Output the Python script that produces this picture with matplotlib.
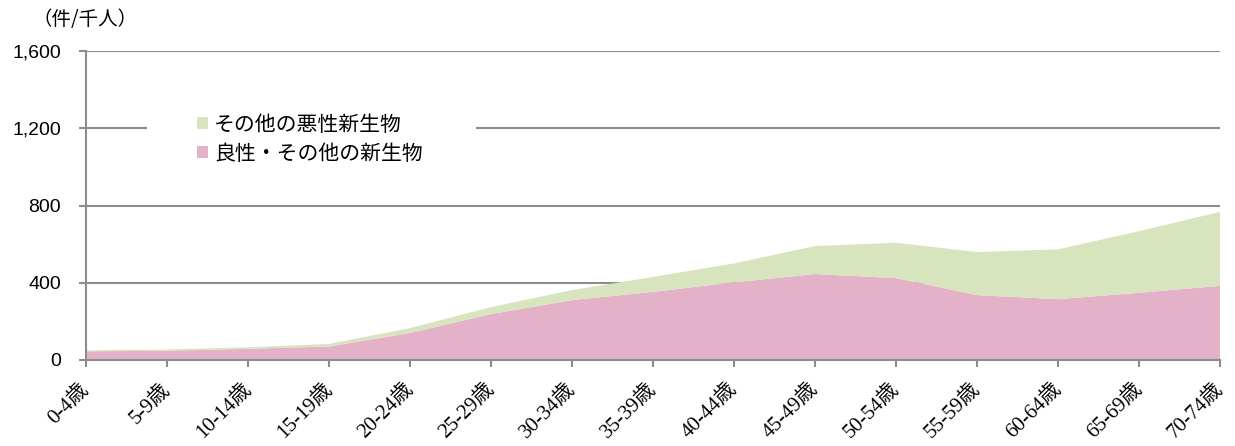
import matplotlib.pyplot as plt
from matplotlib.patches import Rectangle
import numpy as np

ages = ["0-4歳", "5-9歳", "10-14歳", "15-19歳", "20-24歳", "25-29歳", "30-34歳",
        "35-39歳", "40-44歳", "45-49歳", "50-54歳", "55-59歳", "60-64歳",
        "65-69歳", "70-74歳"]
# 良性・その他の新生物 (bottom)
benign = [45, 48, 58, 70, 140, 238, 310, 353, 402, 445, 424, 336, 315, 348, 384]
# その他の悪性新生物 (top)
malignant = [5, 7, 8, 13, 25, 36, 52, 77, 98, 145, 183, 223, 258, 319, 383]
yticks = [0, 400, 800, 1200, 1600]

pink = "#e4b2c8"
green = "#d8e4be"
grid = "#8c8c8c"
cjk = ["Noto Sans CJK JP", "DejaVu Sans"]

fig = plt.figure(figsize=(12.35, 4.46), dpi=100)
ax = fig.add_axes([86 / 1235, 86 / 446, 1134 / 1235, 309 / 446])

x = np.arange(len(ages))
ax.stackplot(x, benign, malignant, colors=[pink, green], linewidth=0, zorder=2,
             labels=["良性・その他の新生物", "その他の悪性新生物"])

ax.set_xlim(0, len(ages) - 1)
ax.set_ylim(0, 1600)
ax.set_yticks(yticks)
ax.set_yticklabels([f"{v:,}" for v in yticks], family="Liberation Sans", fontsize=14)
ax.set_xticks(x)
ax.set_xticklabels(ages, rotation=45, ha="right", va="center", rotation_mode="anchor",
                   family=["Liberation Serif", "Noto Sans CJK JP"], fontsize=15)

for v in yticks[1:]:
    ax.axhline(v, color=grid, lw=1.5, zorder=1)

for s in ["top", "right"]:
    ax.spines[s].set_visible(False)
for s in ["left", "bottom"]:
    ax.spines[s].set_color(grid)
    ax.spines[s].set_linewidth(1.5)
ax.tick_params(color=grid, width=1.5, length=5, direction="out")
ax.tick_params(axis="y", pad=13)
ax.tick_params(axis="x", pad=14)

# white legend box cutting the gridline
ax.add_patch(Rectangle((0.054, 0.6), 0.29, 0.24, transform=ax.transAxes,
                       facecolor="white", edgecolor="none", zorder=3))
handles, labels = ax.get_legend_handles_labels()
leg = ax.legend(handles[::-1], labels[::-1], loc="upper left",
                bbox_to_anchor=(0.081, 0.858), frameon=False,
                prop={"family": cjk, "size": 15}, handlelength=0.55,
                handleheight=0.5, handletextpad=0.3, labelspacing=0.33)
leg.set_zorder(4)

fig.text(32 / 1235, 1 - 20 / 446, "（件/千人）", family=cjk, fontsize=14,
         va="center", ha="left")

fig.savefig("out.png", dpi=100)
